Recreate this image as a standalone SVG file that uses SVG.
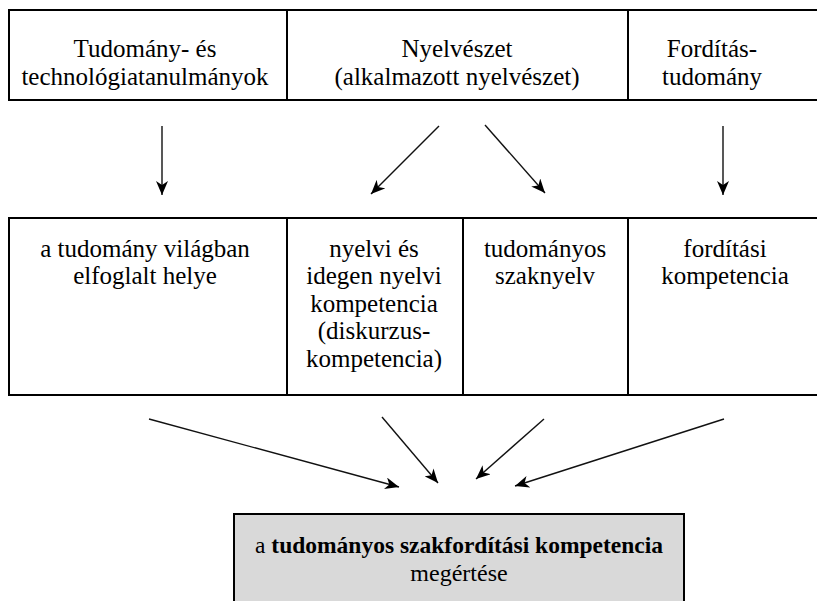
<svg xmlns="http://www.w3.org/2000/svg" width="817" height="601" viewBox="0 0 817 601">
<style>
.cell{fill:#ffffff;stroke:#000000;stroke-width:2}
.res{fill:#d9d9d9;stroke:#000000;stroke-width:2}
.arr{stroke:#111111;stroke-width:1.4;fill:none;marker-end:url(#ah)}
</style>
<defs>
<marker id="ah" markerUnits="userSpaceOnUse" viewBox="0 0 14 12" refX="14" refY="6" markerWidth="14" markerHeight="12" orient="auto">
<path d="M0,0 L14,6 L0,12 L4,6 z" fill="#000000"/>
</marker>
</defs>
<rect width="817" height="601" fill="#ffffff"/>
<g font-family="Liberation Serif, serif" font-size="25" text-anchor="middle" fill="#000000">
<g id="n-tudomany">
<rect class="cell" x="9" y="10" width="278" height="90"/>
<text x="145" y="57">Tudomány- és</text>
<text x="145" y="85">technológiatanulmányok</text>
</g>
<g id="n-nyelveszet">
<rect class="cell" x="287" y="10" width="341" height="90"/>
<text x="457" y="57">Nyelvészet</text>
<text x="457" y="85">(alkalmazott nyelvészet)</text>
</g>
<g id="n-forditas">
<rect class="cell" x="628" y="10" width="210" height="90"/>
<text x="712" y="57">Fordítás-</text>
<text x="712" y="85">tudomány</text>
</g>
<g id="n-vilag">
<rect class="cell" x="9" y="218" width="278" height="177"/>
<text x="145" y="257">a tudomány világban</text>
<text x="145" y="284">elfoglalt helye</text>
</g>
<g id="n-nyelvi">
<rect class="cell" x="287" y="218" width="176" height="177"/>
<text x="374" y="257">nyelvi és</text>
<text x="374" y="284">idegen nyelvi</text>
<text x="374" y="312">kompetencia</text>
<text x="374" y="339">(diskurzus-</text>
<text x="374" y="367">kompetencia)</text>
</g>
<g id="n-szaknyelv">
<rect class="cell" x="463" y="218" width="165" height="177"/>
<text x="545" y="257">tudományos</text>
<text x="545" y="284">szaknyelv</text>
</g>
<g id="n-forditasi">
<rect class="cell" x="628" y="218" width="210" height="177"/>
<text x="725" y="257">fordítási</text>
<text x="725" y="284">kompetencia</text>
</g>
<g id="n-eredmeny">
<rect class="res" x="234" y="514" width="450" height="110"/>
<text x="459" y="553" font-size="23.5">a <tspan font-weight="bold">tudományos szakfordítási kompetencia</tspan></text>
<text x="459" y="581" font-size="24">megértése</text>
</g>
</g>
<g id="connectors">
<line class="arr" x1="162" y1="126" x2="162" y2="195"/>
<line class="arr" x1="439" y1="126" x2="371" y2="194"/>
<line class="arr" x1="485" y1="125" x2="545" y2="193"/>
<line class="arr" x1="723" y1="126" x2="723" y2="195"/>
<line class="arr" x1="149" y1="419" x2="399" y2="487"/>
<line class="arr" x1="382" y1="417" x2="438" y2="483"/>
<line class="arr" x1="544" y1="419" x2="476" y2="479"/>
<line class="arr" x1="724" y1="419" x2="515" y2="486"/>
</g>
</svg>
